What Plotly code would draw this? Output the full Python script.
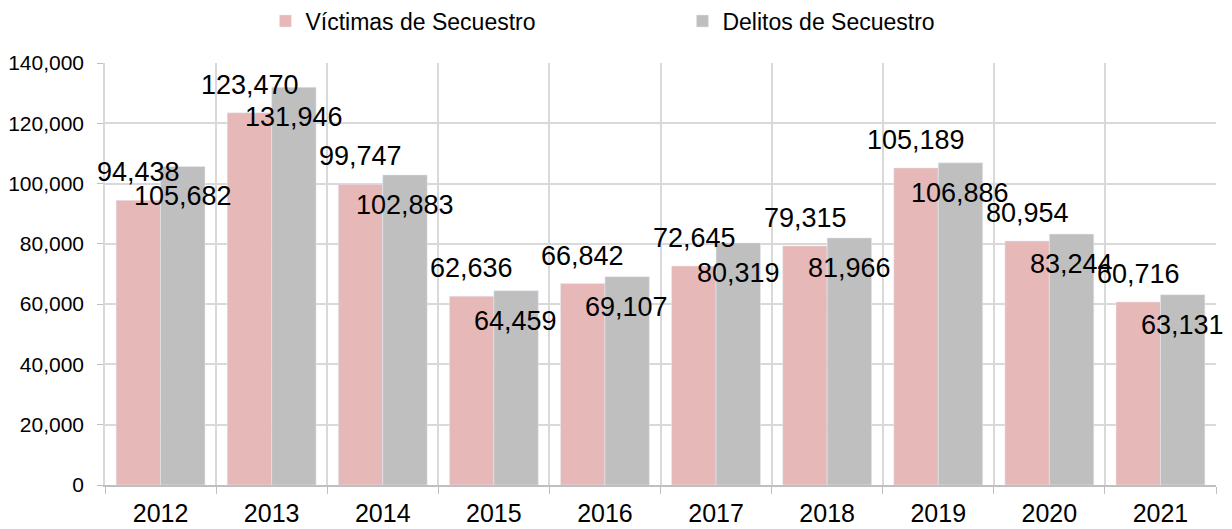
import plotly.graph_objects as go

years = ["2012", "2013", "2014", "2015", "2016", "2017", "2018", "2019", "2020", "2021"]
victimas = [94438, 123470, 99747, 62636, 66842, 72645, 79315, 105189, 80954, 60716]
delitos = [105682, 131946, 102883, 64459, 69107, 80319, 81966, 106886, 83244, 63131]

PINK = "#E6B8B7"
GRAY = "#BFBFBF"
FONT = "Liberation Sans, Arial, sans-serif"

fig = go.Figure()
fig.add_bar(name="Víctimas de Secuestro", x=years, y=victimas, marker_color=PINK)
fig.add_bar(name="Delitos de Secuestro", x=years, y=delitos, marker_color=GRAY)

# data labels, Excel-style: victims above their bar, delitos just under the top
# (annotations on a category axis take the category index)
for i, (v, d) in enumerate(zip(victimas, delitos)):
    fig.add_annotation(x=i, y=v, xshift=-22, yshift=28, text=f"{v:,}",
                       showarrow=False, font=dict(size=27, color="#000"))
    fig.add_annotation(x=i, y=d, xshift=22, yshift=-30, text=f"{d:,}",
                       showarrow=False, font=dict(size=27, color="#000"))

# page body has an 8px margin, so the figure is sized to fit what is left
fig.update_layout(
    barmode="group",
    bargap=0.2,
    bargroupgap=0,
    width=1224,
    height=521,
    plot_bgcolor="white",
    paper_bgcolor="white",
    font=dict(family=FONT, color="#000"),
    margin=dict(l=97, r=16, t=55, b=44, autoexpand=False),
    legend=dict(
        orientation="h",
        xref="container", yref="container",
        x=0.551, xanchor="center", y=0.975, yanchor="middle",
        entrywidth=372,
        font=dict(size=23),
    ),
    xaxis=dict(
        type="category",
        range=[-0.5, len(years) - 0.5],
        tickson="boundaries",
        showgrid=True, gridcolor="#D9D9D9", gridwidth=1.5,
        showline=True, linecolor="#BFBFBF", linewidth=1.5,
        ticks="outside", ticklen=7, tickcolor="#BFBFBF",
        tickfont=dict(size=25),
        ticklabelstandoff=5,
    ),
    yaxis=dict(
        range=[0, 140000], dtick=20000, tickformat=",",
        showgrid=True, gridcolor="#D9D9D9", gridwidth=1.5,
        showline=True, linecolor="#D9D9D9", linewidth=1.5,
        ticks="outside", ticklen=6, tickcolor="#BFBFBF",
        tickfont=dict(size=21),
        ticklabelstandoff=9,
        zeroline=False,
    ),
)

fig.write_html("out.html")
